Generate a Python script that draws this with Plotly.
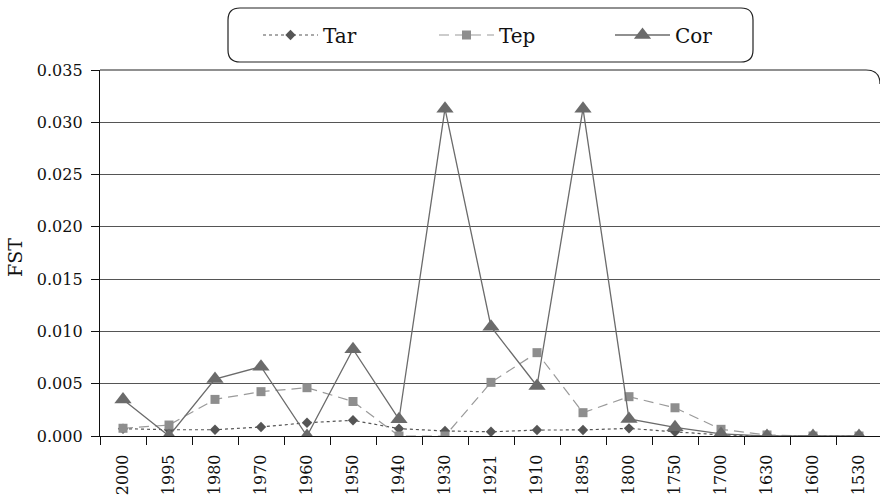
import plotly.graph_objects as go

years = ["2000", "1995", "1980", "1970", "1960", "1950", "1940", "1930", "1921",
         "1910", "1895", "1800", "1750", "1700", "1630", "1600", "1530"]
tar = [0.0007, 0.0006, 0.0006, 0.00086, 0.00127, 0.0015, 0.0007, 0.00048, 0.0004,
       0.00057, 0.00058, 0.00073, 0.0004, 0.0001, 0.0, 0.0, 0.0]
tep = [0.00074, 0.00105, 0.0035, 0.00424, 0.00462, 0.0033, 0.0, 0.0, 0.00513,
       0.00797, 0.00223, 0.00376, 0.0027, 0.00064, 0.0001, 0.0, 0.0]
cor = [0.0035, 0.0, 0.00545, 0.00663, 0.0, 0.0083, 0.0016, 0.0313, 0.01045,
       0.00478, 0.0313, 0.00163, 0.00083, 0.0002, 0.0, 0.0, 0.0]
y_ticks = [0.0, 0.005, 0.010, 0.015, 0.020, 0.025, 0.030, 0.035]
y_ticktext = ["0.000", "0.005", "0.010", "0.015", "0.020", "0.025", "0.030", "0.035"]

FONT = "DejaVu Serif"
W, H = 880, 498
ML, MR, MT, MB = 100, 0, 70, 62
PW, PH = W - ML - MR, H - MT - MB

def px_x(p):
    return (p - ML) / PW

def px_y(p):
    return (H - MB - p) / PH

fig = go.Figure()
fig.add_trace(go.Scatter(x=years, y=tar, name="Tar", mode="lines+markers",
                         line=dict(color="#555555", width=1.2, dash="dot"),
                         marker=dict(symbol="diamond", size=8, color="#555555")))
fig.add_trace(go.Scatter(x=years, y=tep, name="Tep", mode="lines+markers",
                         line=dict(color="#9a9a9a", width=1.2, dash="10px,6px"),
                         marker=dict(symbol="square", size=9, color="#8e8e8e")))
fig.add_trace(go.Scatter(x=years, y=cor, name="Cor", mode="lines+markers",
                         line=dict(color="#6b6b6b", width=1.3),
                         marker=dict(symbol="triangle-up", size=15, color="#6b6b6b")))

# rounded legend box
x0, x1 = px_x(228), px_x(753)
y0, y1 = px_y(62), px_y(8)
rx, ry = 12 / PW, 12 / PH
path = (f"M {x0+rx},{y1} L {x1-rx},{y1} Q {x1},{y1} {x1},{y1-ry} "
        f"L {x1},{y0+ry} Q {x1},{y0} {x1-rx},{y0} L {x0+rx},{y0} "
        f"Q {x0},{y0} {x0},{y0+ry} L {x0},{y1-ry} Q {x0},{y1} {x0+rx},{y1} Z")
shapes = [dict(type="path", xref="paper", yref="paper", path=path,
               line=dict(color="#222222", width=1.2))]
# rounded top-right corner of plot frame
cx0 = px_x(866)
shapes.append(dict(type="path", xref="paper", yref="paper",
                   path=f"M {px_x(100)},1 L {cx0},1 Q 1,1 1,{1-14/PH}",
                   line=dict(color="#222222", width=1.2)))

fig.update_layout(
    width=W, height=H,
    margin=dict(l=ML, r=MR, t=MT, b=MB, autoexpand=False),
    paper_bgcolor="white", plot_bgcolor="white",
    font=dict(family=FONT, color="#111111"),
    shapes=shapes,
    showlegend=True,
    legend=dict(orientation="h", x=px_x(258), xanchor="left",
                y=px_y(35), yanchor="middle",
                font=dict(family=FONT, size=20, color="#111111"),
                bgcolor="rgba(0,0,0,0)", entrywidth=106, entrywidthmode="pixels",
                itemwidth=55),
    annotations=[dict(text="FST", xref="paper", yref="paper", x=px_x(15),
                      y=px_y(258), xanchor="center", yanchor="middle",
                      textangle=-90, showarrow=False,
                      font=dict(family=FONT, size=19, color="#111111"))],
    xaxis=dict(type="category", range=[-0.5, -0.5 + PW / 46.0], automargin=False,
               tickangle=-90, tickson="boundaries", ticks="outside", ticklen=8,
               tickcolor="#111111", tickwidth=1.2, ticklabelstandoff=11,
               showline=True, linecolor="#111111", linewidth=1.2,
               showgrid=False, zeroline=False,
               tickfont=dict(family=FONT, size=16, color="#111111")),
    yaxis=dict(range=[0, 0.035], tickvals=y_ticks,
               ticktext=[t + "\u00a0" for t in y_ticktext], automargin=False,
               ticks="outside", ticklen=8, tickcolor="#111111", tickwidth=1.2,
               showline=True, linecolor="#111111", linewidth=1.2,
               showgrid=True, gridcolor="#555555", gridwidth=1,
               zeroline=False,
               tickfont=dict(family=FONT, size=16, color="#111111")),
)

fig.write_html("out.html", config={"displayModeBar": False},
               post_script="document.body.style.margin='0';")
